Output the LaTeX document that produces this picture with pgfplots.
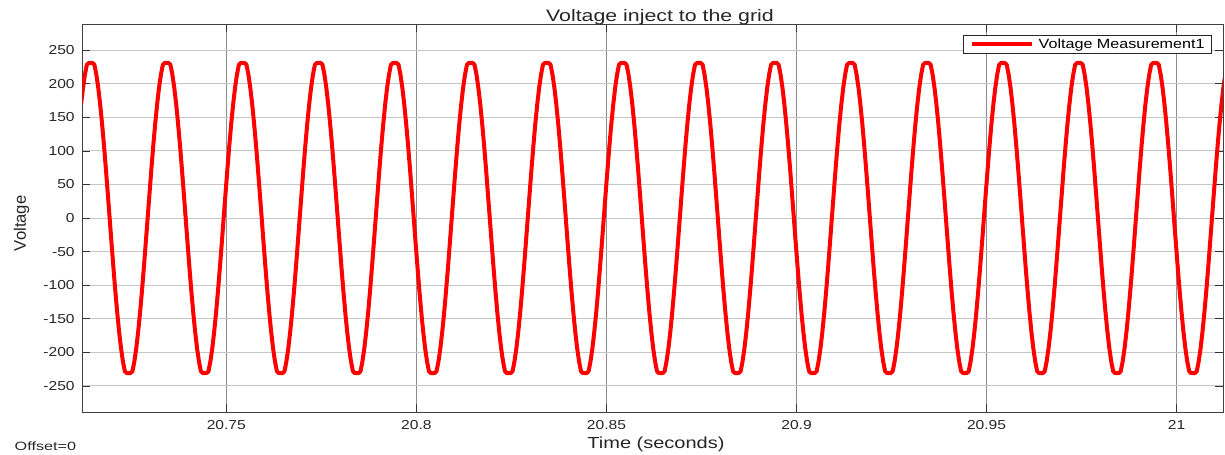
\documentclass[border=0pt]{standalone}
\usepackage{pgfplots}
\pgfplotsset{compat=1.18}
\usepackage{graphicx}
\usepackage{fontspec}
\setmainfont{Liberation Sans}
% the reference text looks stretched sideways
\newcommand{\sx}[1]{\scalebox{1.2}[1]{#1}}

\begin{document}
\begin{tikzpicture}
\begin{axis}[
    name=ax,
    scale only axis,
    width=855.5pt, height=291pt,
    xmin=20.7121, xmax=21.0122,
    ymin=-289, ymax=289,
    xtick={20.75,20.8,20.85,20.9,20.95,21},
    xticklabels={\sx{20.75},\sx{20.8},\sx{20.85},\sx{20.9},\sx{20.95},\sx{21}},
    ytick={-250,-200,-150,-100,-50,0,50,100,150,200,250},
    yticklabels={\sx{-250},\sx{-200},\sx{-150},\sx{-100},\sx{-50},\sx{0},\sx{50},\sx{100},\sx{150},\sx{200},\sx{250}},
    tick pos=both,
    tick align=inside,
    major tick length=6pt,
    tick style={black!80, line width=0.5pt},
    xmajorgrids, ymajorgrids,
    x grid style={black!45, line width=0.4pt},
    y grid style={black!22, line width=0.7pt},
    axis line style={black!75, line width=0.7pt},
    tick label style={font=\fontsize{9.75}{11}\selectfont, text=black!85},
    xticklabel style={anchor=base, yshift=-13pt},
    yticklabel style={anchor=east, inner sep=0pt, xshift=-5.5pt},
    /pgf/number format/assume math mode=true,
    legend style={at={(1,1)}, anchor=north east, xshift=-8.5pt, yshift=-8pt,
        draw=black!85, line width=0.6pt, fill=white,
        inner xsep=5pt, inner ysep=2.5pt, column sep=3.5pt,
        nodes={inner sep=0pt}, font=\fontsize{10}{12}\selectfont},
    legend image code/.code={\draw[#1] (0pt,0pt) -- (45pt,0pt);},
]
\addplot [red, line width=3pt, line join=round] coordinates {
(20.7118,169.7) (20.7123,194.2) (20.7128,213.8) (20.7133,228.3) (20.7138,231)
(20.7143,231) (20.7148,231) (20.7153,228.3) (20.7158,213.8) (20.7163,194.2) (20.7168,169.7) (20.7173,141.1) (20.7178,109) (20.7183,74.2) (20.7188,37.5) (20.7193,0) (20.7198,-37.5) (20.7203,-74.2) (20.7208,-109) (20.7213,-141.1) (20.7218,-169.7) (20.7223,-194.2) (20.7228,-213.8) (20.7233,-228.3) (20.7238,-231)
(20.7243,-231) (20.7248,-231) (20.7253,-228.3) (20.7258,-213.8) (20.7263,-194.2) (20.7268,-169.7) (20.7273,-141.1) (20.7278,-109) (20.7283,-74.2) (20.7288,-37.5) (20.7293,0) (20.7298,37.5) (20.7303,74.2) (20.7308,109) (20.7313,141.1) (20.7318,169.7) (20.7323,194.2) (20.7328,213.8) (20.7333,228.3) (20.7338,231)
(20.7343,231) (20.7348,231) (20.7353,228.3) (20.7358,213.8) (20.7363,194.2) (20.7368,169.7) (20.7373,141.1) (20.7378,109) (20.7383,74.2) (20.7388,37.5) (20.7393,0) (20.7398,-37.5) (20.7403,-74.2) (20.7408,-109) (20.7413,-141.1) (20.7418,-169.7) (20.7423,-194.2) (20.7428,-213.8) (20.7433,-228.3) (20.7438,-231)
(20.7443,-231) (20.7448,-231) (20.7453,-228.3) (20.7458,-213.8) (20.7463,-194.2) (20.7468,-169.7) (20.7473,-141.1) (20.7478,-109) (20.7483,-74.2) (20.7488,-37.5) (20.7493,0) (20.7498,37.5) (20.7503,74.2) (20.7508,109) (20.7513,141.1) (20.7518,169.7) (20.7523,194.2) (20.7528,213.8) (20.7533,228.3) (20.7538,231)
(20.7543,231) (20.7548,231) (20.7553,228.3) (20.7558,213.8) (20.7563,194.2) (20.7568,169.7) (20.7573,141.1) (20.7578,109) (20.7583,74.2) (20.7588,37.5) (20.7593,0) (20.7598,-37.5) (20.7603,-74.2) (20.7608,-109) (20.7613,-141.1) (20.7618,-169.7) (20.7623,-194.2) (20.7628,-213.8) (20.7633,-228.3) (20.7638,-231)
(20.7643,-231) (20.7648,-231) (20.7653,-228.3) (20.7658,-213.8) (20.7663,-194.2) (20.7668,-169.7) (20.7673,-141.1) (20.7678,-109) (20.7683,-74.2) (20.7688,-37.5) (20.7693,0) (20.7698,37.5) (20.7703,74.2) (20.7708,109) (20.7713,141.1) (20.7718,169.7) (20.7723,194.2) (20.7728,213.8) (20.7733,228.3) (20.7738,231)
(20.7743,231) (20.7748,231) (20.7753,228.3) (20.7758,213.8) (20.7763,194.2) (20.7768,169.7) (20.7773,141.1) (20.7778,109) (20.7783,74.2) (20.7788,37.5) (20.7793,0) (20.7798,-37.5) (20.7803,-74.2) (20.7808,-109) (20.7813,-141.1) (20.7818,-169.7) (20.7823,-194.2) (20.7828,-213.8) (20.7833,-228.3) (20.7838,-231)
(20.7843,-231) (20.7848,-231) (20.7853,-228.3) (20.7858,-213.8) (20.7863,-194.2) (20.7868,-169.7) (20.7873,-141.1) (20.7878,-109) (20.7883,-74.2) (20.7888,-37.5) (20.7893,0) (20.7898,37.5) (20.7903,74.2) (20.7908,109) (20.7913,141.1) (20.7918,169.7) (20.7923,194.2) (20.7928,213.8) (20.7933,228.3) (20.7938,231)
(20.7943,231) (20.7948,231) (20.7953,228.3) (20.7958,213.8) (20.7963,194.2) (20.7968,169.7) (20.7973,141.1) (20.7978,109) (20.7983,74.2) (20.7988,37.5) (20.7993,0) (20.7998,-37.5) (20.8003,-74.2) (20.8008,-109) (20.8013,-141.1) (20.8018,-169.7) (20.8023,-194.2) (20.8028,-213.8) (20.8033,-228.3) (20.8038,-231)
(20.8043,-231) (20.8048,-231) (20.8053,-228.3) (20.8058,-213.8) (20.8063,-194.2) (20.8068,-169.7) (20.8073,-141.1) (20.8078,-109) (20.8083,-74.2) (20.8088,-37.5) (20.8093,0) (20.8098,37.5) (20.8103,74.2) (20.8108,109) (20.8113,141.1) (20.8118,169.7) (20.8123,194.2) (20.8128,213.8) (20.8133,228.3) (20.8138,231)
(20.8143,231) (20.8148,231) (20.8153,228.3) (20.8158,213.8) (20.8163,194.2) (20.8168,169.7) (20.8173,141.1) (20.8178,109) (20.8183,74.2) (20.8188,37.5) (20.8193,0) (20.8198,-37.5) (20.8203,-74.2) (20.8208,-109) (20.8213,-141.1) (20.8218,-169.7) (20.8223,-194.2) (20.8228,-213.8) (20.8233,-228.3) (20.8238,-231)
(20.8243,-231) (20.8248,-231) (20.8253,-228.3) (20.8258,-213.8) (20.8263,-194.2) (20.8268,-169.7) (20.8273,-141.1) (20.8278,-109) (20.8283,-74.2) (20.8288,-37.5) (20.8293,0) (20.8298,37.5) (20.8303,74.2) (20.8308,109) (20.8313,141.1) (20.8318,169.7) (20.8323,194.2) (20.8328,213.8) (20.8333,228.3) (20.8338,231)
(20.8343,231) (20.8348,231) (20.8353,228.3) (20.8358,213.8) (20.8363,194.2) (20.8368,169.7) (20.8373,141.1) (20.8378,109) (20.8383,74.2) (20.8388,37.5) (20.8393,0) (20.8398,-37.5) (20.8403,-74.2) (20.8408,-109) (20.8413,-141.1) (20.8418,-169.7) (20.8423,-194.2) (20.8428,-213.8) (20.8433,-228.3) (20.8438,-231)
(20.8443,-231) (20.8448,-231) (20.8453,-228.3) (20.8458,-213.8) (20.8463,-194.2) (20.8468,-169.7) (20.8473,-141.1) (20.8478,-109) (20.8483,-74.2) (20.8488,-37.5) (20.8493,0) (20.8498,37.5) (20.8503,74.2) (20.8508,109) (20.8513,141.1) (20.8518,169.7) (20.8523,194.2) (20.8528,213.8) (20.8533,228.3) (20.8538,231)
(20.8543,231) (20.8548,231) (20.8553,228.3) (20.8558,213.8) (20.8563,194.2) (20.8568,169.7) (20.8573,141.1) (20.8578,109) (20.8583,74.2) (20.8588,37.5) (20.8593,0) (20.8598,-37.5) (20.8603,-74.2) (20.8608,-109) (20.8613,-141.1) (20.8618,-169.7) (20.8623,-194.2) (20.8628,-213.8) (20.8633,-228.3) (20.8638,-231)
(20.8643,-231) (20.8648,-231) (20.8653,-228.3) (20.8658,-213.8) (20.8663,-194.2) (20.8668,-169.7) (20.8673,-141.1) (20.8678,-109) (20.8683,-74.2) (20.8688,-37.5) (20.8693,0) (20.8698,37.5) (20.8703,74.2) (20.8708,109) (20.8713,141.1) (20.8718,169.7) (20.8723,194.2) (20.8728,213.8) (20.8733,228.3) (20.8738,231)
(20.8743,231) (20.8748,231) (20.8753,228.3) (20.8758,213.8) (20.8763,194.2) (20.8768,169.7) (20.8773,141.1) (20.8778,109) (20.8783,74.2) (20.8788,37.5) (20.8793,0) (20.8798,-37.5) (20.8803,-74.2) (20.8808,-109) (20.8813,-141.1) (20.8818,-169.7) (20.8823,-194.2) (20.8828,-213.8) (20.8833,-228.3) (20.8838,-231)
(20.8843,-231) (20.8848,-231) (20.8853,-228.3) (20.8858,-213.8) (20.8863,-194.2) (20.8868,-169.7) (20.8873,-141.1) (20.8878,-109) (20.8883,-74.2) (20.8888,-37.5) (20.8893,0) (20.8898,37.5) (20.8903,74.2) (20.8908,109) (20.8913,141.1) (20.8918,169.7) (20.8923,194.2) (20.8928,213.8) (20.8933,228.3) (20.8938,231)
(20.8943,231) (20.8948,231) (20.8953,228.3) (20.8958,213.8) (20.8963,194.2) (20.8968,169.7) (20.8973,141.1) (20.8978,109) (20.8983,74.2) (20.8988,37.5) (20.8993,0) (20.8998,-37.5) (20.9003,-74.2) (20.9008,-109) (20.9013,-141.1) (20.9018,-169.7) (20.9023,-194.2) (20.9028,-213.8) (20.9033,-228.3) (20.9038,-231)
(20.9043,-231) (20.9048,-231) (20.9053,-228.3) (20.9058,-213.8) (20.9063,-194.2) (20.9068,-169.7) (20.9073,-141.1) (20.9078,-109) (20.9083,-74.2) (20.9088,-37.5) (20.9093,0) (20.9098,37.5) (20.9103,74.2) (20.9108,109) (20.9113,141.1) (20.9118,169.7) (20.9123,194.2) (20.9128,213.8) (20.9133,228.3) (20.9138,231)
(20.9143,231) (20.9148,231) (20.9153,228.3) (20.9158,213.8) (20.9163,194.2) (20.9168,169.7) (20.9173,141.1) (20.9178,109) (20.9183,74.2) (20.9188,37.5) (20.9193,0) (20.9198,-37.5) (20.9203,-74.2) (20.9208,-109) (20.9213,-141.1) (20.9218,-169.7) (20.9223,-194.2) (20.9228,-213.8) (20.9233,-228.3) (20.9238,-231)
(20.9243,-231) (20.9248,-231) (20.9253,-228.3) (20.9258,-213.8) (20.9263,-194.2) (20.9268,-169.7) (20.9273,-141.1) (20.9278,-109) (20.9283,-74.2) (20.9288,-37.5) (20.9293,0) (20.9298,37.5) (20.9303,74.2) (20.9308,109) (20.9313,141.1) (20.9318,169.7) (20.9323,194.2) (20.9328,213.8) (20.9333,228.3) (20.9338,231)
(20.9343,231) (20.9348,231) (20.9353,228.3) (20.9358,213.8) (20.9363,194.2) (20.9368,169.7) (20.9373,141.1) (20.9378,109) (20.9383,74.2) (20.9388,37.5) (20.9393,0) (20.9398,-37.5) (20.9403,-74.2) (20.9408,-109) (20.9413,-141.1) (20.9418,-169.7) (20.9423,-194.2) (20.9428,-213.8) (20.9433,-228.3) (20.9438,-231)
(20.9443,-231) (20.9448,-231) (20.9453,-228.3) (20.9458,-213.8) (20.9463,-194.2) (20.9468,-169.7) (20.9473,-141.1) (20.9478,-109) (20.9483,-74.2) (20.9488,-37.5) (20.9493,0) (20.9498,37.5) (20.9503,74.2) (20.9508,109) (20.9513,141.1) (20.9518,169.7) (20.9523,194.2) (20.9528,213.8) (20.9533,228.3) (20.9538,231)
(20.9543,231) (20.9548,231) (20.9553,228.3) (20.9558,213.8) (20.9563,194.2) (20.9568,169.7) (20.9573,141.1) (20.9578,109) (20.9583,74.2) (20.9588,37.5) (20.9593,0) (20.9598,-37.5) (20.9603,-74.2) (20.9608,-109) (20.9613,-141.1) (20.9618,-169.7) (20.9623,-194.2) (20.9628,-213.8) (20.9633,-228.3) (20.9638,-231)
(20.9643,-231) (20.9648,-231) (20.9653,-228.3) (20.9658,-213.8) (20.9663,-194.2) (20.9668,-169.7) (20.9673,-141.1) (20.9678,-109) (20.9683,-74.2) (20.9688,-37.5) (20.9693,0) (20.9698,37.5) (20.9703,74.2) (20.9708,109) (20.9713,141.1) (20.9718,169.7) (20.9723,194.2) (20.9728,213.8) (20.9733,228.3) (20.9738,231)
(20.9743,231) (20.9748,231) (20.9753,228.3) (20.9758,213.8) (20.9763,194.2) (20.9768,169.7) (20.9773,141.1) (20.9778,109) (20.9783,74.2) (20.9788,37.5) (20.9793,0) (20.9798,-37.5) (20.9803,-74.2) (20.9808,-109) (20.9813,-141.1) (20.9818,-169.7) (20.9823,-194.2) (20.9828,-213.8) (20.9833,-228.3) (20.9838,-231)
(20.9843,-231) (20.9848,-231) (20.9853,-228.3) (20.9858,-213.8) (20.9863,-194.2) (20.9868,-169.7) (20.9873,-141.1) (20.9878,-109) (20.9883,-74.2) (20.9888,-37.5) (20.9893,0) (20.9898,37.5) (20.9903,74.2) (20.9908,109) (20.9913,141.1) (20.9918,169.7) (20.9923,194.2) (20.9928,213.8) (20.9933,228.3) (20.9938,231)
(20.9943,231) (20.9948,231) (20.9953,228.3) (20.9958,213.8) (20.9963,194.2) (20.9968,169.7) (20.9973,141.1) (20.9978,109) (20.9983,74.2) (20.9988,37.5) (20.9993,0) (20.9998,-37.5) (21.0003,-74.2) (21.0008,-109) (21.0013,-141.1) (21.0018,-169.7) (21.0023,-194.2) (21.0028,-213.8) (21.0033,-228.3) (21.0038,-231)
(21.0043,-231) (21.0048,-231) (21.0053,-228.3) (21.0058,-213.8) (21.0063,-194.2) (21.0068,-169.7) (21.0073,-141.1) (21.0078,-109) (21.0083,-74.2) (21.0088,-37.5) (21.0093,0) (21.0098,37.5) (21.0103,74.2) (21.0108,109) (21.0113,141.1) (21.0118,169.7) (21.0123,194.2) (21.0128,213.8) (21.0133,228.3) (21.0138,231)
};
\addlegendentry{\scalebox{1.21}[1]{Voltage Measurement1}}
\end{axis}
\node[anchor=base, font=\fontsize{12.5}{14}\selectfont, text=black!85]
    at ([shift={(5.5pt,1.7pt)}]ax.north) {\scalebox{1.28}[1]{Voltage inject to the grid}};
\node[anchor=base, font=\fontsize{12}{14}\selectfont, text=black!85]
    at ([shift={(2.5pt,-27.2pt)}]ax.south) {\scalebox{1.25}[1]{Time (seconds)}};
\node[rotate=90, anchor=center, font=\fontsize{12.5}{14}\selectfont, text=black!85]
    at ([shift={(-45.6pt,-4pt)}]ax.west) {Voltage};
\node[anchor=base west, font=\fontsize{9}{11}\selectfont, text=black!85]
    at ([shift={(-54.2pt,-28.5pt)}]ax.south west) {\scalebox{1.35}[1]{Offset=0}};
\pgfresetboundingbox
\path[use as bounding box] ([shift={(-61.7pt,-31.5pt)}]ax.south west) rectangle ([shift={(1.5pt,18pt)}]ax.north east);
\end{tikzpicture}
\end{document}
